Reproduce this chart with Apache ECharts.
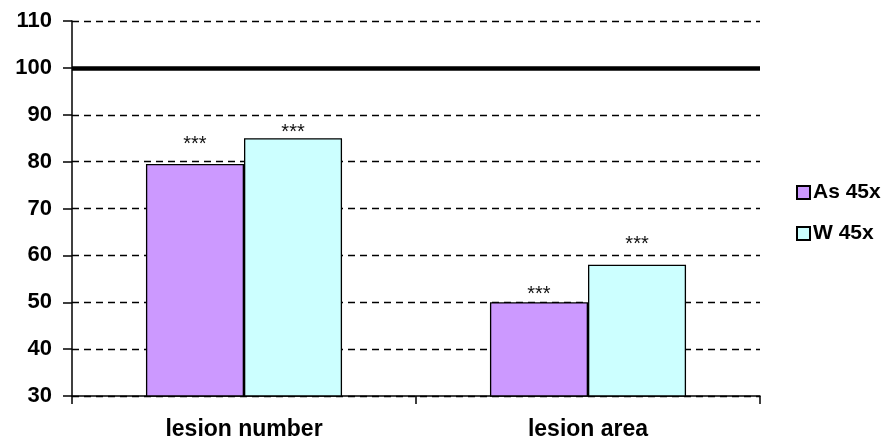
<!DOCTYPE html>
<html>
<head>
<meta charset="utf-8">
<script src="https://cdn.jsdelivr.net/npm/echarts@6/dist/echarts.min.js"></script>
<style>html,body{margin:0;padding:0;background:#fff}#c{width:893px;height:444px}</style>
</head>
<body>
<div id="c"></div>
<script>
const categories = ['lesion number', 'lesion area'];
const seriesNames = ['As 45x', 'W 45x'];
const asValues = [79.5, 50];
const wValues = [85, 58];
const sigLabels = ['***', '***'];
const referenceValue = 100;
const yTicks = [30, 40, 50, 60, 70, 80, 90, 100, 110];

const FONT = 'Liberation Sans, Arial, sans-serif';
const chart = echarts.init(document.getElementById('c'), null, {renderer: 'canvas'});

function barData(values, offsets) {
  return values.map((v, i) => ({
    value: v,
    label: {show: true, position: 'top', distance: 0, offset: [0, offsets[i]], formatter: sigLabels[i],
            color: '#111', fontSize: 20, lineHeight: 20, fontFamily: FONT}
  }));
}

const option = {
  animation: false,
  backgroundColor: '#fff',
  grid: {left: 72, right: 133, top: 21, bottom: 48, containLabel: false},
  legend: {
    orient: 'vertical', left: 791, top: 177,
    itemWidth: 13, itemHeight: 13, itemGap: 20,
    icon: 'rect',
    textStyle: {fontFamily: FONT, fontWeight: 'bold', fontSize: 21, color: '#000', padding: [0, 0, 0, -2]},
    data: seriesNames
  },
  xAxis: {
    type: 'category', data: categories,
    axisLine: {lineStyle: {color: '#000', width: 1.5}},
    axisTick: {show: true, length: 8, lineStyle: {color: '#000', width: 1.5}},
    axisLabel: {margin: 22, fontFamily: FONT, fontWeight: 'bold', fontSize: 23, color: '#000'}
  },
  yAxis: {
    type: 'value', min: yTicks[0], max: yTicks[yTicks.length - 1], interval: 10,
    axisLine: {show: true, lineStyle: {color: '#000', width: 1.5}},
    axisTick: {show: true, length: 9, lineStyle: {color: '#000', width: 1.5}},
    axisLabel: {margin: 20, fontFamily: FONT, fontWeight: 'bold', fontSize: 22, color: '#000'},
    splitLine: {show: true, lineStyle: {color: '#000', width: 1.4, type: [7, 5]}}
  },
  series: [
    {
      name: seriesNames[0], type: 'bar', data: barData(asValues, [-9, 2]),
      barCategoryGap: '43%', barGap: '0%',
      itemStyle: {color: '#CC99FF', borderColor: '#000', borderWidth: 1.3},
      markLine: {
        silent: true, symbol: 'none', label: {show: false},
        lineStyle: {color: '#000', width: 4.5, type: 'solid'},
        data: [{yAxis: referenceValue}]
      }
    },
    {
      name: seriesNames[1], type: 'bar', data: barData(wValues, [4, -10]),
      barCategoryGap: '43%', barGap: '0%',
      itemStyle: {color: '#CCFFFF', borderColor: '#000', borderWidth: 1.3}
    }
  ]
};
chart.setOption(option);
</script>
</body>
</html>
